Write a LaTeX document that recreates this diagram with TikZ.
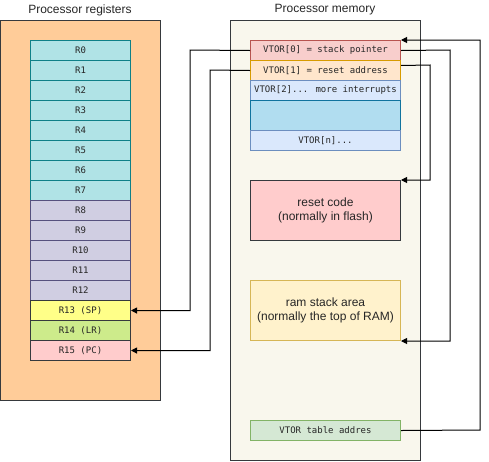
\documentclass[tikz,border=0pt]{standalone}
\usepackage{fontspec}
\setmainfont{Liberation Sans}
\newfontfamily\monof{DejaVu Sans Mono}
\usetikzlibrary{arrows.meta}
\definecolor{regbg}{HTML}{FFCC99}
\definecolor{membg}{HTML}{F9F7ED}
\definecolor{dark}{HTML}{36393D}
\definecolor{tealf}{HTML}{B0E3E6}\definecolor{teals}{HTML}{0E8088}
\definecolor{lavf}{HTML}{D0CEE2}\definecolor{lavs}{HTML}{56517E}
\definecolor{yelf}{HTML}{FFFF88}
\definecolor{grnf}{HTML}{CDEB8B}
\definecolor{pnkf}{HTML}{FFCCCC}
\definecolor{redf}{HTML}{F8CECC}\definecolor{reds}{HTML}{B85450}
\definecolor{orf}{HTML}{FFE6CC}\definecolor{ors}{HTML}{D79B00}
\definecolor{bluf}{HTML}{DAE8FC}\definecolor{blus}{HTML}{6C8EBF}
\definecolor{blu2f}{HTML}{B1DDF0}\definecolor{blu2s}{HTML}{10739E}
\definecolor{ylf}{HTML}{FFF2CC}\definecolor{yls}{HTML}{D6B656}
\definecolor{gf}{HTML}{D5E8D4}\definecolor{gs}{HTML}{82B366}
\tikzset{
  box/.style={draw, line width=1pt, minimum width=#1, inner sep=0pt, anchor=north west, font=\fontsize{9}{11}\selectfont\monof, text=black!85},
  reg/.style={box=100pt, minimum height=20pt},
  vt/.style={box=150pt, minimum height=20pt},
  big/.style={draw, line width=1pt, minimum width=150pt, minimum height=60pt, inner sep=0pt, anchor=north west, align=center, font=\fontsize{12}{14}\selectfont, text=black!85},
  title/.style={font=\fontsize{12}{14}\selectfont, text=black!85},
  conn/.style={line width=1pt, -{Triangle[length=6pt,width=6pt]}}
}
\begin{document}
\begin{tikzpicture}[x=1pt,y=-1pt]
\useasboundingbox (0,0) rectangle (489,461);
\node[title] (t1) at (80,10) {Processor registers};
\node[title] (t2) at (325,10) {Processor memory};
\draw[fill=regbg, draw=dark, line width=1pt] (0,20) rectangle (160,400);
\draw[fill=membg, draw=dark, line width=1pt] (230,20) rectangle (420,460);
\foreach \i in {0,...,7}{
  \node[reg, fill=tealf, draw=teals] (r\i) at (30,{40+20*\i}) {R\i};
}
\foreach \i in {8,...,12}{
  \node[reg, fill=lavf, draw=lavs] (r\i) at (30,{40+20*\i}) {R\i};
}
\node[reg, fill=yelf, draw=dark] (r13) at (30,300) {R13 (SP)};
\node[reg, fill=grnf, draw=dark] (r14) at (30,320) {R14 (LR)};
\node[reg, fill=pnkf, draw=dark] (r15) at (30,340) {R15 (PC)};

\node[vt, fill=redf, draw=reds] (v0) at (250,40) {VTOR[0] = stack pointer};
\node[vt, fill=orf, draw=ors] (v1) at (250,60) {VTOR[1] = reset address};
\node[vt, fill=bluf, draw=blus] (v2) at (250,80) {VTOR[2]... more interrupts};
\node[vt, fill=blu2f, draw=blu2s, minimum height=30pt] (vb) at (250,100) {};
\node[vt, fill=bluf, draw=blus] (vn) at (250,130) {VTOR[n]...};
\node[big, fill=pnkf, draw=dark] (rc) at (250,180) {reset code\\(normally in flash)};
\node[big, fill=ylf, draw=yls] (rs) at (250,280) {ram stack area\\(normally the top of RAM)};
\node[vt, fill=gf, draw=gs] (vt) at (250,420) {VTOR table addres};

\draw[conn] (v0.west) -- (190,50) |- (r13.east);
\draw[conn] (v1.west) -- (210,70) |- (r15.east);
\draw[conn] (v0.east) -- (450,50) |- (rs.south east);
\draw[conn] ([yshift=5pt]v1.east) -- (430,65) |- (rc.north east);
\draw[conn] (vt.east) -- (480,430) |- (v0.north east);
\end{tikzpicture}
\end{document}
